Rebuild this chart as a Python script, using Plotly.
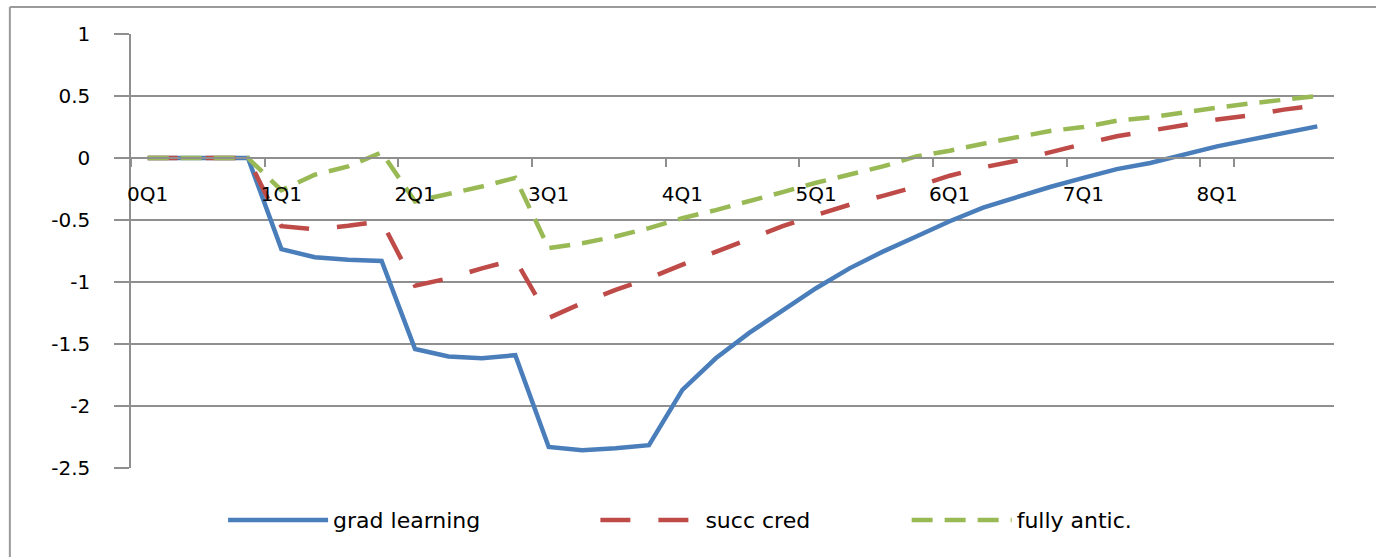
import plotly.graph_objects as go

quarters = [
    "0Q1", "0Q2", "0Q3", "0Q4", "1Q1", "1Q2", "1Q3", "1Q4",
    "2Q1", "2Q2", "2Q3", "2Q4", "3Q1", "3Q2", "3Q3", "3Q4",
    "4Q1", "4Q2", "4Q3", "4Q4", "5Q1", "5Q2", "5Q3", "5Q4",
    "6Q1", "6Q2", "6Q3", "6Q4", "7Q1", "7Q2", "7Q3", "7Q4",
    "8Q1", "8Q2", "8Q3", "8Q4",
]

grad_learning = [
    0, 0, 0, 0, -0.735, -0.80, -0.82, -0.83,
    -1.54, -1.60, -1.615, -1.59, -2.33, -2.356, -2.34, -2.316,
    -1.87, -1.615, -1.41, -1.225, -1.05, -0.89, -0.755, -0.633,
    -0.51, -0.40, -0.315, -0.234, -0.16, -0.09, -0.04, 0.027,
    0.094, 0.148, 0.20, 0.255,
]

succ_cred = [
    0, 0, 0, 0, -0.55, -0.575, -0.547, -0.51,
    -1.03, -0.97, -0.89, -0.82, -1.29, -1.17, -1.064, -0.97,
    -0.86, -0.755, -0.655, -0.55, -0.46, -0.377, -0.305, -0.23,
    -0.143, -0.076, -0.022, 0.048, 0.113, 0.175, 0.22, 0.263,
    0.31, 0.344, 0.39, 0.425,
]

fully_antic = [
    0, 0, 0, 0, -0.26, -0.135, -0.068, 0.045,
    -0.35, -0.29, -0.23, -0.16, -0.727, -0.687, -0.633, -0.565,
    -0.485, -0.42, -0.35, -0.275, -0.20, -0.135, -0.068, 0.013,
    0.059, 0.115, 0.17, 0.218, 0.25, 0.30, 0.328, 0.37,
    0.406, 0.44, 0.473, 0.50,
]

y_ticks = [1, 0.5, 0, -0.5, -1, -1.5, -2, -2.5]
x_tick_labels = ["0Q1", "1Q1", "2Q1", "3Q1", "4Q1", "5Q1", "6Q1", "7Q1", "8Q1"]

FONT = "DejaVu Sans"
GRID = "#8f8f8f"

fig = go.Figure()
fig.add_trace(go.Scatter(x=quarters, y=grad_learning, mode="lines", name="grad learning",
                         line=dict(color="#4A7EBB", width=4.5), legend="legend"))
fig.add_trace(go.Scatter(x=quarters, y=succ_cred, mode="lines", name="succ cred",
                         line=dict(color="#BE4B48", width=4.5, dash="30px,28px"), legend="legend2"))
fig.add_trace(go.Scatter(x=quarters, y=fully_antic, mode="lines", name="fully antic.",
                         line=dict(color="#98B954", width=4.5, dash="21px,12px"), legend="legend3"))

def leg(xpix):
    return dict(orientation="h", x=(xpix - 131) / 1202, xanchor="left", y=-0.12, yanchor="middle",
                font=dict(family=FONT, size=22, color="#000000"),
                itemwidth=100, bgcolor="rgba(0,0,0,0)")

fig.update_layout(
    width=1376, height=557,
    margin=dict(l=131, r=42, t=34, b=89),
    paper_bgcolor="white", plot_bgcolor="white",
    font=dict(family=FONT, size=19, color="#000000"),
    showlegend=True,
    legend=leg(223),
    legend2=leg(595),
    legend3=leg(906),
    xaxis=dict(
        type="category", categoryorder="array", categoryarray=quarters,
        range=[-0.5, 35.5],
        tickmode="array", tickvals=x_tick_labels, ticktext=x_tick_labels,
        tickson="boundaries", tickangle=0,
        anchor="free", position=2.5 / 3.5,
        showline=True, linecolor=GRID, linewidth=1.5,
        ticks="outside", ticklen=8, tickcolor=GRID, tickwidth=1.5,
        ticklabelstandoff=18,
        showgrid=False, zeroline=False,
        tickfont=dict(family=FONT, size=20, color="#000000"),
    ),
    yaxis=dict(
        range=[-2.5, 1],
        tickmode="array", tickvals=y_ticks, ticktext=[str(v) for v in y_ticks],
        showgrid=True, gridcolor=GRID, gridwidth=1.5,
        showline=True, linecolor=GRID, linewidth=1.5,
        ticks="outside", ticklen=15, tickcolor=GRID, tickwidth=1.5,
        ticklabelstandoff=20,
        zeroline=False,
        tickfont=dict(family=FONT, size=20, color="#000000"),
    ),
    shapes=[
        dict(type="line", xref="paper", yref="paper", x0=-0.1007, x1=-0.1007, y0=1.0622, y1=-0.22,
             line=dict(color="#9a9a9a", width=2)),
        dict(type="line", xref="paper", yref="paper", x0=-0.1007, x1=1.04, y0=1.0622, y1=1.0622,
             line=dict(color="#9a9a9a", width=2)),
    ],
)

fig.write_html("out.html")
